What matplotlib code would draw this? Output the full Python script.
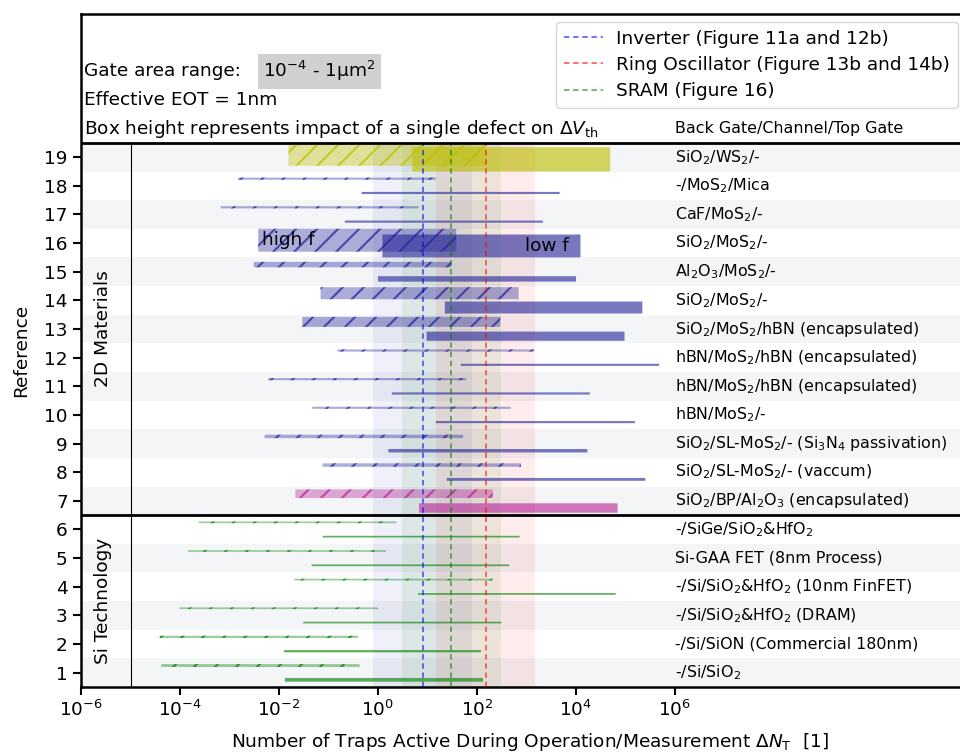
import numpy as np
import matplotlib
matplotlib.use('Agg')
import matplotlib.pyplot as plt
from matplotlib.ticker import NullLocator, FixedLocator

# ---------------- data ----------------
rows = list(range(19, 0, -1))
row_labels = [
    r'SiO$_2$/WS$_2$/-',
    r'-/MoS$_2$/Mica',
    r'CaF/MoS$_2$/-',
    r'SiO$_2$/MoS$_2$/-',
    r'Al$_2$O$_3$/MoS$_2$/-',
    r'SiO$_2$/MoS$_2$/-',
    r'SiO$_2$/MoS$_2$/hBN (encapsulated)',
    r'hBN/MoS$_2$/hBN (encapsulated)',
    r'hBN/MoS$_2$/hBN (encapsulated)',
    r'hBN/MoS$_2$/-',
    r'SiO$_2$/SL-MoS$_2$/- (Si$_3$N$_4$ passivation)',
    r'SiO$_2$/SL-MoS$_2$/- (vaccum)',
    r'SiO$_2$/BP/Al$_2$O$_3$ (encapsulated)',
    r'-/SiGe/SiO$_2$&HfO$_2$',
    r'Si-GAA FET (8nm Process)',
    r'-/Si/SiO$_2$&HfO$_2$ (10nm FinFET)',
    r'-/Si/SiO$_2$&HfO$_2$ (DRAM)',
    r'-/Si/SiON (Commercial 180nm)',
    r'-/Si/SiO$_2$',
]
# high-frequency (hatched) ranges, log10(Delta N_T)
hf_lo = [-1.81, -2.83, -3.18, -2.42, -2.51, -1.16, -1.53, -0.82, -2.22, -1.33, -2.29, -1.12, -1.67,
         -3.62, -3.84, -1.69, -4.01, -4.41, -4.38]
hf_hi = [2.17, 1.17, 0.82, 1.58, 1.48, 2.84, 2.47, 3.16, 1.78, 2.68, 1.72, 2.89, 2.32,
         0.37, 0.16, 2.31, -0.01, -0.40, -0.37]
# low-frequency (solid) ranges, log10(Delta N_T)
lf_lo = [0.69, -0.33, -0.67, 0.09, 0.00, 1.35, 0.98, 1.67, 0.28, 1.17, 0.21, 1.39, 0.83,
         -1.12, -1.34, 0.81, -1.51, -1.90, -1.88]
lf_hi = [4.69, 3.67, 3.33, 4.09, 4.00, 5.34, 4.98, 5.68, 4.28, 5.19, 4.23, 5.40, 4.84,
         2.86, 2.65, 4.80, 2.49, 2.08, 2.12]
# box heights (impact of single defect)
hf_h = [0.80, 0.075, 0.075, 0.80, 0.19, 0.42, 0.35, 0.075, 0.075, 0.075, 0.12, 0.12, 0.30,
        0.06, 0.06, 0.06, 0.06, 0.08, 0.10]
lf_h = [0.85, 0.075, 0.075, 0.80, 0.19, 0.42, 0.32, 0.075, 0.075, 0.075, 0.12, 0.10, 0.33,
        0.06, 0.06, 0.06, 0.06, 0.08, 0.13]
row_group = ['yellow'] + ['2d'] * 11 + ['pink'] + ['si'] * 6

# circuit requirements
circ_names = ['Inverter (Figure 11a and 12b)', 'Ring Oscillator (Figure 13b and 14b)', 'SRAM (Figure 16)']
circ_center = [8, 150, 30]
circ_colors = ['blue', 'red', 'green']
span_colors = [(0.2, 0.25, 0.7), (1.0, 0.0, 0.0), (0.0, 0.5, 0.0)]

group_colors = {
    'yellow': (0.75, 0.75, 0.0),
    '2d': (0.15, 0.15, 0.60),
    'pink': (0.72, 0.15, 0.60),
    'si': (0.0, 0.5, 0.0),
}

# ---------------- figure ----------------
DPI = 126
S = 100.0 / DPI          # points scale so that sizes match a 100-dpi look
W, H = 960, 753
plt.rcParams['font.family'] = ['DejaVu Sans']
plt.rcParams['hatch.linewidth'] = 1.5 * S
plt.rcParams['xtick.major.pad'] = 3.5 * S
plt.rcParams['ytick.major.pad'] = 3.5 * S
FS = 13.3 * S
FS_ROW = 11.4 * S

fig = plt.figure(figsize=(W / DPI, H / DPI), dpi=DPI)
x0_px, top_px, bot_px = 81, 14, 687
ax = fig.add_axes([x0_px / W, 1 - bot_px / H, 1.02 - x0_px / W, (bot_px - top_px) / H])
ax.set_xscale('log')
px_per_dec = 49.5
xmax_exp = -6 + (1.02 * W - x0_px) / px_per_dec
ax.set_xlim(1e-6, 10 ** xmax_exp)
ax.set_ylim(0.5, 24)

# alternating row stripes
for r in rows:
    if r % 2 == 1:
        ax.axhspan(r - 0.5, r + 0.5, color='#f3f5f7', lw=0, zorder=0)

# circuit shaded ranges and dashed lines
ylo, yhi = 0.5, 19.5
for c, col in zip(circ_center, span_colors):
    ax.fill_betweenx([ylo, yhi], c / 10, c * 10, color=col, alpha=0.075, lw=0, zorder=0.5)
lines = []
for c, col, name in zip(circ_center, circ_colors, circ_names):
    ln, = ax.plot([c, c], [ylo, yhi], ls=(0, (3.5, 2.5)), lw=1.1 * S, color=col, alpha=0.7,
                  zorder=3, label=name)
    lines.append(ln)

# bars
for i, r in enumerate(rows):
    col = group_colors[row_group[i]]
    # hatched (high f)
    h = hf_h[i]
    off = min(0.25, 0.5 - h / 2)
    bars = ax.barh(r + off, 10 ** hf_hi[i] - 10 ** hf_lo[i], left=10 ** hf_lo[i], height=h,
                   facecolor=col + (0.38,), edgecolor=col + (0.75,), hatch='//', lw=0, zorder=2)
    for b in bars:
        b.set_snap(False)
    # solid (low f)
    h = lf_h[i]
    off = min(0.25, 0.5 - h / 2)
    bars = ax.barh(r - off, 10 ** lf_hi[i] - 10 ** lf_lo[i], left=10 ** lf_lo[i], height=h,
                   facecolor=col + (0.62,), edgecolor='none', lw=0, zorder=2)
    for b in bars:
        b.set_snap(False)
    ax.text(1e6, r, row_labels[i], fontsize=FS_ROW, va='center', ha='left', zorder=4)

ax.text(4.5e-3, 16.1, 'high f', fontsize=FS, va='center', ha='left', zorder=4)
ax.text(0.95e3, 15.9, 'low f', fontsize=FS, va='center', ha='left', zorder=4)

# separators
ax.axhline(19.5, color='black', lw=2 * S, zorder=5)
ax.axhline(6.5, color='black', lw=2 * S, zorder=5)
ax.plot([1e-5, 1e-5], [0.5, 19.5], color='black', lw=0.8 * S, zorder=5)
ax.text(2.8e-6, 13, '2D Materials', rotation=90, fontsize=FS, ha='center', va='center')
ax.text(2.8e-6, 3.5, 'Si Technology', rotation=90, fontsize=FS, ha='center', va='center')

# header
ax.text(1.15e-6, 22.0, 'Gate area range:', fontsize=FS, va='center', ha='left')
ax.text(4.8e-3, 22.0, r'$10^{-4}$ - 1μm$^2$', fontsize=FS, va='center', ha='left',
        bbox=dict(facecolor='#d0d0d0', edgecolor='none', pad=4 * S))
ax.text(1.15e-6, 21.0, 'Effective EOT = 1nm', fontsize=FS, va='center', ha='left')
ax.text(1.15e-6, 20.0, r'Box height represents impact of a single defect on $\Delta V_{\mathrm{th}}$',
        fontsize=FS, va='center', ha='left')
ax.text(1e6, 20.0, 'Back Gate/Channel/Top Gate', fontsize=FS_ROW, va='center', ha='left')

leg = ax.legend(handles=lines, loc='upper right', bbox_to_anchor=(958 / W, 1 - 22 / H),
                bbox_transform=fig.transFigure, borderaxespad=0, fontsize=FS,
                handlelength=2.15, handletextpad=0.7, labelspacing=0.44, borderpad=0.42)
leg.get_frame().set_linewidth(1.0 * S)

# axes
ax.xaxis.set_major_locator(FixedLocator([10.0 ** k for k in range(-6, 7, 2)]))
ax.xaxis.set_minor_locator(NullLocator())
ax.set_yticks(rows)
ax.set_yticklabels([str(r) for r in rows])
ax.tick_params(labelsize=FS, width=1.5 * S, length=6 * S)
for s in ax.spines.values():
    s.set_linewidth(1.8 * S)
ax.set_ylabel('Reference', fontsize=FS, labelpad=10 * S)
ax.set_xlabel(r'Number of Traps Active During Operation/Measurement $\Delta N_\mathrm{T}$  [1]',
              fontsize=FS, labelpad=8 * S)

fig.savefig('out.png', dpi=DPI)
